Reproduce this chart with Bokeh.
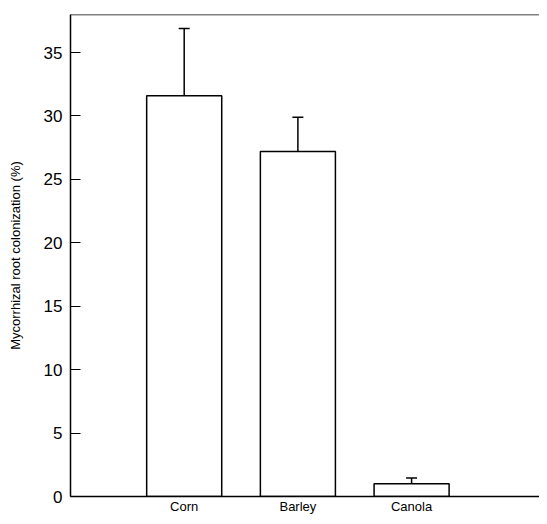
from bokeh.plotting import figure
from bokeh.models import Range1d, FixedTicker, Span
from bokeh.embed import file_html
from bokeh.resources import INLINE

crops = ["Corn", "Barley", "Canola"]
colonization = [31.6, 27.2, 1.0]
std_err = [5.3, 2.7, 0.45]
y_ticks = [0, 5, 10, 15, 20, 25, 30, 35]

xpos = [i + 1 for i in range(len(crops))]
tops = [v + e for v, e in zip(colonization, std_err)]

p = figure(width=539, height=516, output_backend="svg", toolbar_location=None,
           x_range=Range1d(0, 4.125), y_range=Range1d(0, 38),
           min_border_left=70, min_border_top=14, min_border_right=0, min_border_bottom=17)
p.outline_line_color = None
p.xgrid.visible = False
p.ygrid.visible = False
p.background_fill_color = "white"

p.vbar(x=xpos, top=colonization, bottom=0, width=0.66,
       fill_color="white", line_color="black", line_width=1.5)
p.segment(x0=xpos, y0=colonization, x1=xpos, y1=tops, line_color="black", line_width=1.5)
p.scatter(x=xpos, y=tops, marker="dash", size=11, line_color="black", line_width=1.5)

p.add_layout(Span(location=38, dimension="width", line_color="black", line_width=1.5))

ya = p.yaxis[0]
ya.ticker = FixedTicker(ticks=y_ticks)
ya.major_tick_in = 10
ya.major_tick_out = 0
ya.minor_tick_in = 0
ya.minor_tick_out = 0
ya.axis_line_width = 1.5
ya.major_tick_line_width = 1.2
ya.major_label_text_font = "Liberation Sans"
ya.major_label_text_font_size = "17px"
ya.major_label_text_color = "black"
ya.major_label_standoff = 8
ya.axis_label = "Mycorrhizal root colonization (%)"
ya.axis_label_text_font = "Liberation Sans"
ya.axis_label_text_font_size = "13px"
ya.axis_label_text_font_style = "normal"
ya.axis_label_text_color = "black"
ya.axis_label_standoff = 18

xa = p.xaxis[0]
xa.ticker = FixedTicker(ticks=xpos)
xa.major_label_overrides = {x: c for x, c in zip(xpos, crops)}
xa.major_tick_in = 0
xa.major_tick_out = 0
xa.minor_tick_in = 0
xa.minor_tick_out = 0
xa.axis_line_width = 1.5
xa.major_label_text_font = "Liberation Sans"
xa.major_label_text_font_size = "13px"
xa.major_label_text_color = "black"
xa.major_label_standoff = 2

open("out.html", "w").write(file_html(p, INLINE))
